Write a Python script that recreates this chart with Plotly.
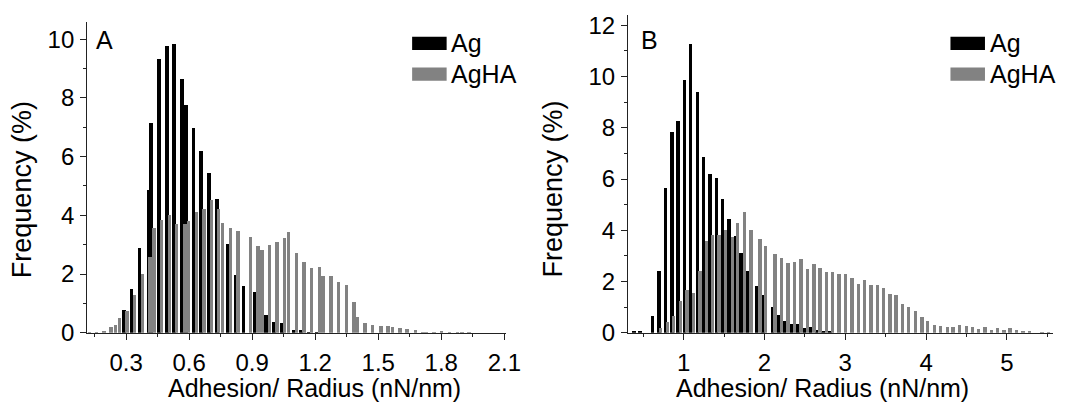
import plotly.graph_objects as go

# ---------------- Panel A data ----------------
a_ag_x = [0.290, 0.326, 0.366, 0.408, 0.420, 0.458, 0.495, 0.530, 0.567, 0.586, 0.622, 0.658,
          0.695, 0.733, 0.784, 0.821, 0.859, 0.912, 0.968, 1.006, 1.042, 1.097, 1.134, 1.170, 1.206]
a_ag_y = [0.80, 1.51, 2.91, 4.87, 7.16, 9.34, 9.79, 9.86, 8.66, 7.76, 7.00, 6.19,
          5.44, 4.57, 3.04, 1.97, 1.59, 1.41, 0.61, 0.39, 0.36, 0.09, 0.12, 0.04, 0.03]

a_agha_x = [0.128, 0.159, 0.195, 0.230, 0.250, 0.269, 0.305, 0.342, 0.378, 0.414, 0.433, 0.469,
            0.508, 0.542, 0.581, 0.598, 0.636, 0.672, 0.708, 0.742, 0.761, 0.798, 0.834, 0.892,
            0.928, 0.947, 0.983, 1.019, 1.056, 1.074, 1.111, 1.147, 1.183, 1.222, 1.238, 1.277,
            1.311, 1.350, 1.386, 1.402, 1.439, 1.475, 1.514, 1.548, 1.569, 1.605, 1.639, 1.678,
            1.714, 1.730, 1.767, 1.803, 1.839, 1.878, 1.900, 1.933]
a_agha_y = [0.03, 0.03, 0.08, 0.20, 0.28, 0.52, 0.74, 1.29, 2.02, 2.58, 3.59, 3.86,
            4.02, 3.70, 3.70, 3.83, 4.13, 4.22, 4.55, 4.24, 3.75, 3.59, 3.48, 3.28,
            2.98, 2.82, 3.00, 3.11, 3.24, 3.46, 2.73, 2.41, 2.22, 2.24, 1.95, 1.95,
            1.75, 1.64, 1.05, 0.55, 0.34, 0.28, 0.25, 0.23, 0.22, 0.16, 0.13, 0.09,
            0.05, 0.05, 0.04, 0.06, 0.03, 0.04, 0.04, 0.04]

# ---------------- Panel B data ----------------
b_ag_x = [0.387, 0.460, 0.615, 0.695, 0.777, 0.859, 0.932, 1.012, 1.090, 1.171, 1.249, 1.326,
          1.407, 1.480, 1.561, 1.643, 1.712, 1.793, 1.902, 1.984, 2.098, 2.179, 2.252, 2.334,
          2.415, 2.493, 2.570, 2.646, 2.724, 2.810]
b_ag_y = [0.05, 0.08, 0.65, 2.40, 5.65, 7.85, 8.27, 9.85, 11.27, 9.40, 6.87, 6.19,
          6.04, 5.21, 4.45, 3.79, 3.10, 2.40, 1.81, 1.47, 1.00, 0.69, 0.44, 0.34,
          0.34, 0.17, 0.20, 0.12, 0.03, 0.05]

b_agha_x = [0.716, 0.798, 0.878, 0.960, 1.041, 1.122, 1.204, 1.285, 1.359, 1.439, 1.521, 1.602,
            1.671, 1.752, 1.834, 1.944, 2.017, 2.130, 2.212, 2.293, 2.374, 2.451, 2.533, 2.612,
            2.688, 2.768, 2.846, 2.923, 3.000, 3.082, 3.163, 3.237, 3.317, 3.395, 3.472, 3.554,
            3.627, 3.704, 3.785, 3.866, 3.948, 4.021, 4.102, 4.179, 4.261, 4.334, 4.415, 4.496,
            4.570, 4.651, 4.728, 4.810, 4.883, 4.963, 5.037, 5.118, 5.200, 5.277, 5.432, 5.512]
b_agha_y = [0.19, 0.41, 0.66, 1.22, 1.67, 1.54, 2.40, 3.56, 3.80, 3.82, 4.02, 3.75,
            4.27, 4.72, 4.02, 3.65, 3.40, 3.06, 2.92, 2.71, 2.75, 2.87, 2.50, 2.66,
            2.52, 2.35, 2.35, 2.30, 2.30, 2.15, 1.91, 2.04, 1.84, 1.85, 1.75, 1.52,
            1.47, 1.12, 1.00, 0.84, 0.60, 0.44, 0.31, 0.27, 0.21, 0.21, 0.29, 0.26,
            0.23, 0.15, 0.21, 0.12, 0.19, 0.12, 0.17, 0.11, 0.06, 0.07, 0.02, 0.02]

series_names = ["Ag", "AgHA"]
panel_labels = ["A", "B"]
x_title = "Adhesion/ Radius (nN/nm)"
y_title = "Frequency (%)"

BLACK = "#000000"
GRAY = "#828282"
FONT = "Liberation Sans, Arial, sans-serif"
W, H = 1068, 413


def px(x):
    return x / W


def py(y):
    return 1 - y / H


fig = go.Figure()
fig.add_trace(go.Bar(x=a_ag_x, y=a_ag_y, width=0.0165, marker=dict(color=BLACK, line=dict(width=0)),
                     name=series_names[0], xaxis="x", yaxis="y", showlegend=False))
fig.add_trace(go.Bar(x=a_agha_x, y=a_agha_y, width=0.0165, marker=dict(color=GRAY, line=dict(width=0)),
                     name=series_names[1], xaxis="x", yaxis="y", showlegend=False))
fig.add_trace(go.Bar(x=b_ag_x, y=b_ag_y, width=0.041, marker=dict(color=BLACK, line=dict(width=0)),
                     name=series_names[0], xaxis="x2", yaxis="y2", showlegend=False))
fig.add_trace(go.Bar(x=b_agha_x, y=b_agha_y, width=0.041, marker=dict(color=GRAY, line=dict(width=0)),
                     name=series_names[1], xaxis="x2", yaxis="y2", showlegend=False))

tickfont = dict(family=FONT, size=24, color="#000")
axcommon = dict(showline=True, linecolor="#222", linewidth=1.3, ticks="outside", ticklen=6,
                tickwidth=1.3, tickcolor="#222", showgrid=False, zeroline=False,
                tickfont=tickfont, fixedrange=True)
xcommon = dict(ticklabelstandoff=2, **axcommon)
ycommon = dict(ticklabelstandoff=1, **axcommon)

fig.update_layout(
    width=W, height=H, margin=dict(l=0, r=0, t=0, b=0),
    paper_bgcolor="white", plot_bgcolor="white", barmode="overlay", bargap=0,
    xaxis=dict(domain=[px(88.5), px(513)], range=[0.115, 2.107], anchor="y",
               tick0=0, dtick=0.3, tickformat=".1f",
               minor=dict(dtick=0.15, tick0=0, ticks="outside", ticklen=3, tickcolor="#222"),
               **xcommon),
    yaxis=dict(domain=[py(343), py(19.4)], range=[0, 10.6], anchor="x",
               tick0=0, dtick=2,
               minor=dict(dtick=1, tick0=0, ticks="outside", ticklen=3, tickcolor="#222"),
               **ycommon),
    xaxis2=dict(domain=[px(637), 1.0], range=[0.313, 0.313 + (1068 - 637) / 82.0], anchor="y2",
                tick0=0, dtick=1,
                minor=dict(dtick=0.5, tick0=0, ticks="outside", ticklen=3, tickcolor="#222"),
                **xcommon),
    yaxis2=dict(domain=[py(343), py(12.6)], range=[0, 12.4], anchor="x2",
                tick0=0, dtick=2,
                minor=dict(dtick=1, tick0=0, ticks="outside", ticklen=3, tickcolor="#222"),
                **ycommon),
)

anns = []
xtitlefont = dict(family=FONT, size=25, color="#000")
ytitlefont = dict(family=FONT, size=27, color="#000")
labelfont = dict(family=FONT, size=25, color="#000")
# x titles
for cx in (319, 834):
    anns.append(dict(x=px(cx), y=py(401), xref="paper", yref="paper", text=x_title,
                     showarrow=False, font=xtitlefont, xanchor="center", yanchor="middle"))
# y titles
for cx in (23, 561):
    anns.append(dict(x=px(cx), y=py(194), xref="paper", yref="paper", text=y_title,
                     showarrow=False, font=ytitlefont, textangle=-90, xanchor="center", yanchor="middle"))
# panel labels
for lbl, lx in zip(panel_labels, (95, 648)):
    anns.append(dict(x=px(lx), y=py(39), xref="paper", yref="paper", text=lbl,
                     showarrow=False, font=labelfont, xanchor="left", yanchor="middle"))

# legends (drawn as swatches + text)
shapes = []
for (x0, x1, tx) in ((418, 453, 455), (964, 999, 1002)):
    shapes.append(dict(type="rect", xref="paper", yref="paper", x0=px(x0), x1=px(x1),
                       y0=py(49), y1=py(35), fillcolor=BLACK, line=dict(width=0)))
    shapes.append(dict(type="rect", xref="paper", yref="paper", x0=px(x0), x1=px(x1),
                       y0=py(81), y1=py(67), fillcolor=GRAY, line=dict(width=0)))
    anns.append(dict(x=px(tx), y=py(42), xref="paper", yref="paper", text=series_names[0],
                     showarrow=False, font=labelfont, xanchor="left", yanchor="middle"))
    anns.append(dict(x=px(tx), y=py(74), xref="paper", yref="paper", text=series_names[1],
                     showarrow=False, font=labelfont, xanchor="left", yanchor="middle"))

fig.update_layout(annotations=anns, shapes=shapes)
fig.write_html("out.html", config={"displayModeBar": False})
